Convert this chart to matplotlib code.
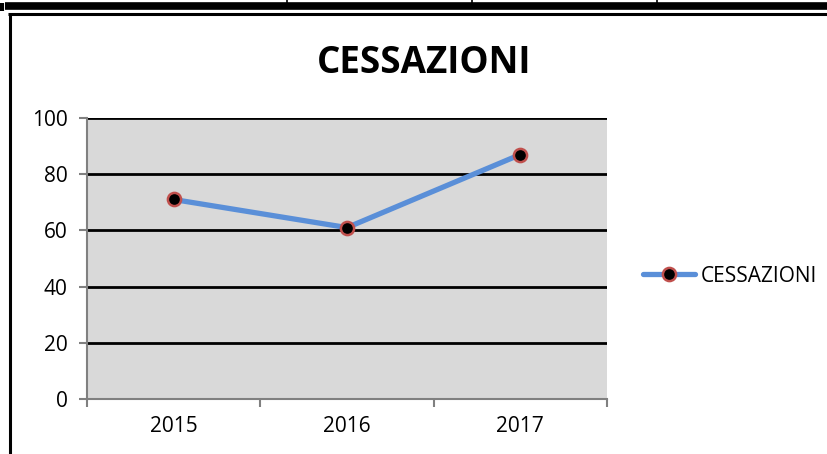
import matplotlib.pyplot as plt
from matplotlib.lines import Line2D

plt.rcParams['font.family'] = ['Open Sans', 'DejaVu Sans']

# --- dati ---
anni = ['2015', '2016', '2017']
cessazioni = [71, 61, 87]
yticks = [0, 20, 40, 60, 80, 100]

W, H = 827, 454
fig = plt.figure(figsize=(W / 100, H / 100), dpi=100)
fig.patch.set_facecolor('white')


def px(x, y):
    return x / W, 1 - y / H


# bordi della tabella e cornice del grafico
def fig_line(x0, y0, x1, y1, lw, color='black'):
    (a, b), (c, d) = px(x0, y0), px(x1, y1)
    fig.add_artist(Line2D([a, c], [b, d], lw=lw, color=color,
                          transform=fig.transFigure, solid_capstyle='butt'))


fig_line(5, 5.5, W, 5.5, 5.5)
fig_line(2, 3, 2, 11, 3)
for xv in (287, 472, 657):
    fig_line(xv, 0, xv, 3, 1.2)
fig_line(8, 14, W, 14, 2.2)
fig_line(9.5, 13, 9.5, H, 2.2)

# area del grafico
x0, y0 = px(87, 399)
x1, y1 = px(607, 118)
ax = fig.add_axes([x0, y0, x1 - x0, y1 - y0])
ax.set_facecolor('#d9d9d9')

pos = list(range(len(anni)))
for v in yticks[1:]:
    ax.axhline(v, color='black', lw=2.0, zorder=1)

ax.plot(pos, cessazioni, color='#5a8fd8', lw=3.8, marker='o',
        markersize=9.5, markerfacecolor='black', markeredgecolor='#c0504d',
        markeredgewidth=1.8, solid_capstyle='round', zorder=3,
        label='CESSAZIONI')

ax.set_xlim(-0.5, len(anni) - 0.5)
ax.set_ylim(0, 100)
ax.set_yticks(yticks)
ax.set_xticks([p - 0.5 for p in pos] + [len(anni) - 0.5])
ax.set_xticklabels([])
ax.set_xticks(pos, minor=True)
ax.set_xticklabels(anni, minor=True)
ax.tick_params(axis='x', which='minor', length=0, labelsize=15, pad=12)
ax.tick_params(axis='x', which='major', direction='out', length=6,
               width=1.5, color='#808080')
ax.tick_params(axis='y', direction='out', length=6, width=1.5,
               color='#808080', labelsize=15, pad=8)

for s in ('top', 'right'):
    ax.spines[s].set_visible(False)
for s in ('left', 'bottom'):
    ax.spines[s].set_color('#808080')
    ax.spines[s].set_linewidth(1.5)
    ax.spines[s].set_zorder(4)

fig.text(px(424, 0)[0], px(0, 63)[1], 'CESSAZIONI', ha='center',
         va='center', fontsize=26.5, fontweight='bold')

fig.legend(loc='center left', bbox_to_anchor=px(643, 276), frameon=False,
           fontsize=15, handlelength=2.5, handletextpad=0.25, borderpad=0,
           borderaxespad=0)

fig.savefig('out.png', dpi=100)
